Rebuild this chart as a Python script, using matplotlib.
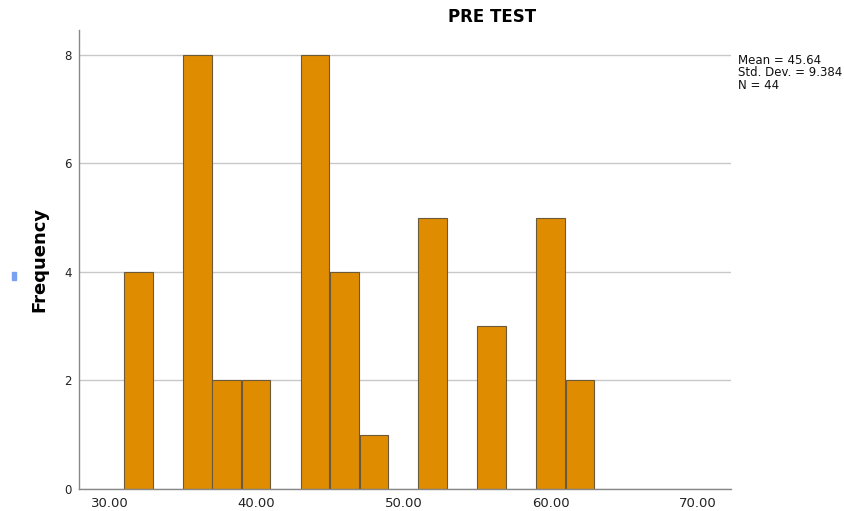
import matplotlib
matplotlib.use("Agg")
import matplotlib.pyplot as plt
import matplotlib.patches as mpatches

bin_left = [31, 35, 37, 39, 43, 45, 47, 51, 55, 59, 61]
counts = [4, 8, 2, 2, 8, 4, 1, 5, 3, 5, 2]
bin_width = 2
x_ticks = [30, 40, 50, 60, 70]
x_tick_labels = ["30.00", "40.00", "50.00", "60.00", "70.00"]
y_ticks = [0, 2, 4, 6, 8]
stats_text = "Mean = 45.64\nStd. Dev. = 9.384\nN = 44"

fig = plt.figure(figsize=(8.44, 5.11), dpi=100)
ax = fig.add_axes([79/844, 22/511, (731-79)/844, (489-30)/511])

ax.set_axisbelow(True)
ax.yaxis.grid(True, color="#c8c8c8", linewidth=1.0)
ax.bar(bin_left, counts, width=bin_width * 0.97, align="edge",
       color="#E08C00", edgecolor="#6b5a3a", linewidth=0.8)

ax.set_xlim(27.93, 72.24)
ax.set_ylim(0, 8.46)
ax.set_xticks(x_ticks)
ax.set_xticklabels(x_tick_labels, fontsize=9.5, color="#222222")
ax.set_yticks(y_ticks)
ax.set_yticklabels([str(v) for v in y_ticks], fontsize=8.5, color="#222222")
ax.tick_params(axis="both", length=0, pad=6)
ax.tick_params(axis="y", pad=5)

for s in ["top", "right"]:
    ax.spines[s].set_visible(False)
for s in ["left", "bottom"]:
    ax.spines[s].set_color("#888888")
    ax.spines[s].set_linewidth(1.0)

ax.set_ylabel("Frequency", fontsize=13, fontweight="bold", labelpad=12)
fig.text(492/844, 1 - 17/511, "PRE TEST", ha="center", va="center",
         fontsize=12, fontweight="bold")
fig.text(738/844, 1 - 54/511, stats_text, ha="left", va="top",
         fontsize=8.5, linespacing=0.95, color="#111111")

fig.patches.append(mpatches.Rectangle((12/844, 1 - 280/511), 4/844, 8/511,
                                      transform=fig.transFigure,
                                      color="#7aa0f0", zorder=5))

fig.savefig("out.png", dpi=100)
